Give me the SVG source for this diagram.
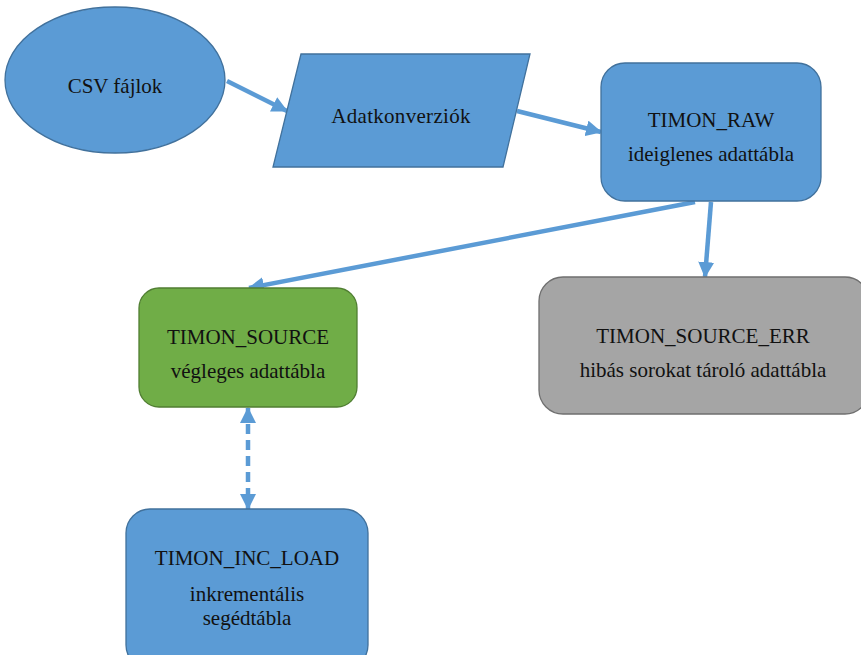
<svg xmlns="http://www.w3.org/2000/svg" width="861" height="655" viewBox="0 0 861 655" font-family="Liberation Serif, Times New Roman, serif">
<style>
.t{font-size:21px;fill:#111;text-anchor:middle}
.blue{fill:#5b9bd5;stroke:#41719c;stroke-width:1.3}
.green{fill:#70ad47;stroke:#507e32;stroke-width:1.3}
.gray{fill:#a5a5a5;stroke:#6f6f6f;stroke-width:1.3}
.c{fill:none;stroke:#5b9bd5;stroke-width:4.5}
</style>
<defs>
<marker id="ah" markerUnits="userSpaceOnUse" markerWidth="16" markerHeight="16" viewBox="0 0 16 16" refX="15" refY="8" orient="auto-start-reverse">
<path d="M0,0 L16,8 L0,16 Z" fill="#5b9bd5"/>
</marker>
</defs>
<rect width="861" height="655" fill="#fff"/>
<g id="connectors">
<line class="c" x1="227" y1="81" x2="287" y2="111" marker-end="url(#ah)"/>
<line class="c" x1="517" y1="111" x2="601" y2="132" marker-end="url(#ah)"/>
<line class="c" x1="695" y1="202" x2="249" y2="288" marker-end="url(#ah)"/>
<line class="c" x1="711" y1="202" x2="705" y2="277" marker-end="url(#ah)"/>
<line class="c" x1="248" y1="408" x2="248" y2="509" stroke-dasharray="10,6" marker-start="url(#ah)" marker-end="url(#ah)"/>
</g>
<g id="csv">
<ellipse class="blue" cx="115" cy="80" rx="110" ry="73"/>
<text class="t" x="115" y="93" font-family="Liberation Serif, serif">CSV fájlok</text>
</g>
<g id="adatkonverziok">
<polygon class="blue" points="301,54 530,54 503,167 273,167"/>
<text class="t" x="401" y="123" letter-spacing="0.3" font-family="Liberation Serif, serif">Adatkonverziók</text>
</g>
<g id="timon_raw">
<rect class="blue" x="601" y="63" width="220" height="138" rx="24"/>
<text class="t" x="711" y="127" font-family="Liberation Serif, serif">TIMON_RAW</text>
<text class="t" x="711" y="161" font-family="Liberation Serif, serif">ideiglenes adattábla</text>
</g>
<g id="timon_source">
<rect class="green" x="139" y="288" width="218" height="119" rx="20"/>
<text class="t" x="248" y="344" font-family="Liberation Serif, serif">TIMON_SOURCE</text>
<text class="t" x="248" y="378" font-family="Liberation Serif, serif">végleges adattábla</text>
</g>
<g id="timon_source_err">
<rect class="gray" x="539" y="277" width="330" height="137" rx="24"/>
<text class="t" x="703" y="343" font-family="Liberation Serif, serif">TIMON_SOURCE_ERR</text>
<text class="t" x="703" y="377" font-family="Liberation Serif, serif">hibás sorokat tároló adattábla</text>
</g>
<g id="timon_inc_load">
<rect class="blue" x="126" y="509" width="242" height="160" rx="24"/>
<text class="t" x="247" y="565" font-family="Liberation Serif, serif">TIMON_INC_LOAD</text>
<text class="t" x="247" y="601" font-family="Liberation Serif, serif">inkrementális</text>
<text class="t" x="247" y="625" font-family="Liberation Serif, serif">segédtábla</text>
</g>
</svg>
